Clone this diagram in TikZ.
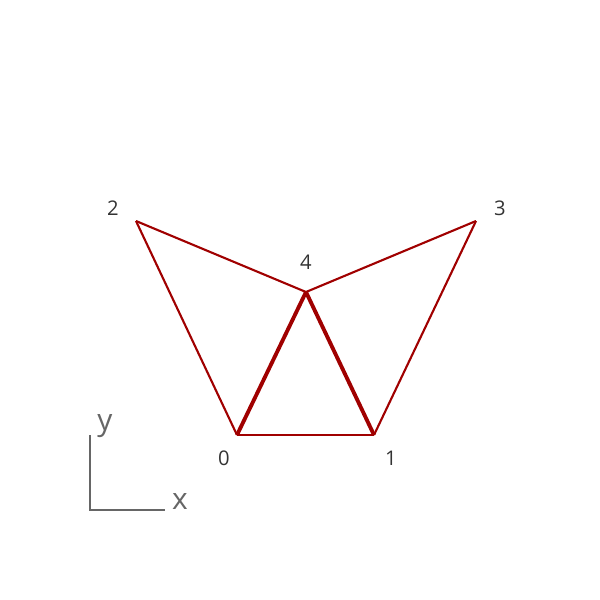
\documentclass[tikz,border=0pt]{standalone}
\usepackage{fontspec}
\setmainfont{Open Sans}
\definecolor{edgered}{HTML}{A00000}
\definecolor{axisgray}{HTML}{666666}
\begin{document}
\begin{tikzpicture}[
        x=0.02cm, y=-0.02cm,
        vertex/.style={coordinate},
        Tedge/.style={edgered, line width=1.2pt, line join=round},
        Bedge/.style={edgered, line width=2.2pt, line join=round},
        axisline/.style={axisgray, line width=0.6pt},
        every node/.style={font=\fontsize{11.5pt}{13pt}\selectfont, text=black!80}
    ]

    \useasboundingbox (0,0) rectangle (600,600);

    \node[vertex] (v0) at (237,435) {};
    \node[vertex] (v1) at (374,435) {};
    \node[vertex] (v2) at (136,221) {};
    \node[vertex] (v3) at (476,221) {};
    \node[vertex] (v4) at (306,292) {};

    \draw[Tedge] (v0)--(v1);
    \draw[Tedge] (v0)--(v2);
    \draw[Tedge] (v2)--(v4);
    \draw[Tedge] (v4)--(v3);
    \draw[Tedge] (v3)--(v1);
    \draw[Bedge] (v0)--(v4);
    \draw[Bedge] (v1)--(v4);

    \node (l0) at (224,458) {0};
    \node (l1) at (391,458) {1};
    \node (l2) at (113,208) {2};
    \node (l3) at (500,208) {3};
    \node (l4) at (306,262) {4};

    % axes
    \coordinate (oy) at (90,435);
    \coordinate (o) at (90,510);
    \coordinate (ox) at (165,510);
    \draw[axisline] (oy)--(o)--(ox);
    \node[text=axisgray, font=\fontsize{17pt}{20pt}\selectfont] (ly) at (105,426) {y};
    \node[text=axisgray, font=\fontsize{17pt}{20pt}\selectfont] (lx) at (180,502) {x};

\end{tikzpicture}
\end{document}
